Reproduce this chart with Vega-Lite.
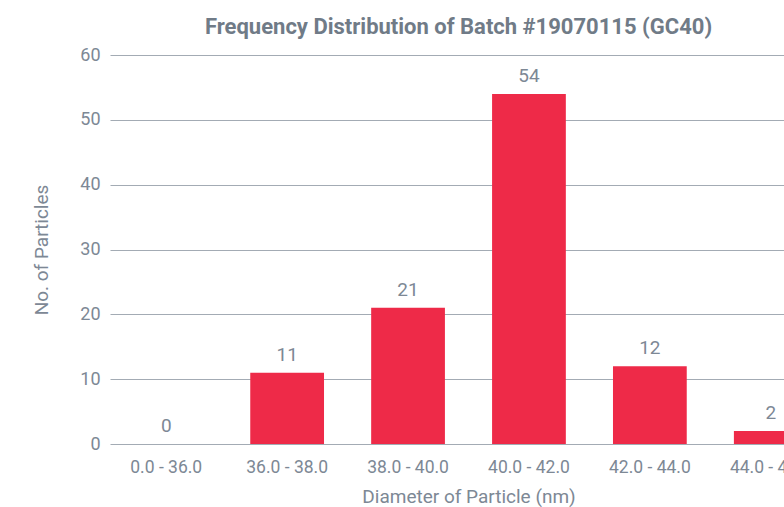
{
  "$schema": "https://vega.github.io/schema/vega-lite/v6.json",
  "width": 717,
  "height": 389,
  "autosize": {"type": "none"},
  "padding": {"left": 110, "top": 55, "right": 0, "bottom": 63},
  "title": {
    "text": "Frequency Distribution of Batch #19070115 (GC40)",
    "font": "Roboto",
    "fontSize": 22,
    "fontWeight": "bold",
    "color": "#707b87",
    "anchor": "middle",
    "dx": -10,
    "offset": 7
  },
  "data": {
    "values": [
      {"range": "0.0 - 36.0", "count": 0},
      {"range": "36.0 - 38.0", "count": 11},
      {"range": "38.0 - 40.0", "count": 21},
      {"range": "40.0 - 42.0", "count": 54},
      {"range": "42.0 - 44.0", "count": 12},
      {"range": "44.0 - 46.0", "count": 2}
    ]
  },
  "config": {
    "view": {"stroke": null},
    "font": "Roboto"
  },
  "encoding": {
    "x": {
      "field": "range",
      "type": "nominal",
      "sort": null,
      "scale": {"paddingInner": 0.39, "paddingOuter": 0.16},
      "axis": {
        "title": "Diameter of Particle (nm)",
        "labelAngle": 0,
        "labelFont": "Roboto",
        "labelFontSize": 17.5,
        "labelColor": "#7d8895",
        "labelPadding": 14,
        "titleFont": "Roboto",
        "titleFontSize": 19,
        "titleFontWeight": "normal",
        "titleColor": "#7d8895",
        "titlePadding": 12,
        "domain": false,
        "ticks": false
      }
    },
    "y": {
      "field": "count",
      "type": "quantitative",
      "scale": {"domain": [0, 60]},
      "axis": {
        "title": "No. of Particles",
        "values": [0, 10, 20, 30, 40, 50, 60],
        "labelFont": "Roboto",
        "labelFontSize": 18,
        "labelColor": "#7d8895",
        "labelPadding": 10,
        "titleFont": "Roboto",
        "titleFontSize": 19,
        "titleFontWeight": "normal",
        "titleColor": "#7d8895",
        "titlePadding": 28,
        "domain": false,
        "ticks": false,
        "grid": true,
        "gridColor": "#a3abb4",
        "gridWidth": 1.2
      }
    }
  },
  "layer": [
    {
      "mark": {"type": "bar", "color": "#ee2a48"}
    },
    {
      "mark": {
        "type": "text",
        "baseline": "bottom",
        "dy": -8,
        "font": "Roboto",
        "fontSize": 19,
        "color": "#7d8895"
      },
      "encoding": {"text": {"field": "count", "type": "quantitative"}}
    }
  ]
}
